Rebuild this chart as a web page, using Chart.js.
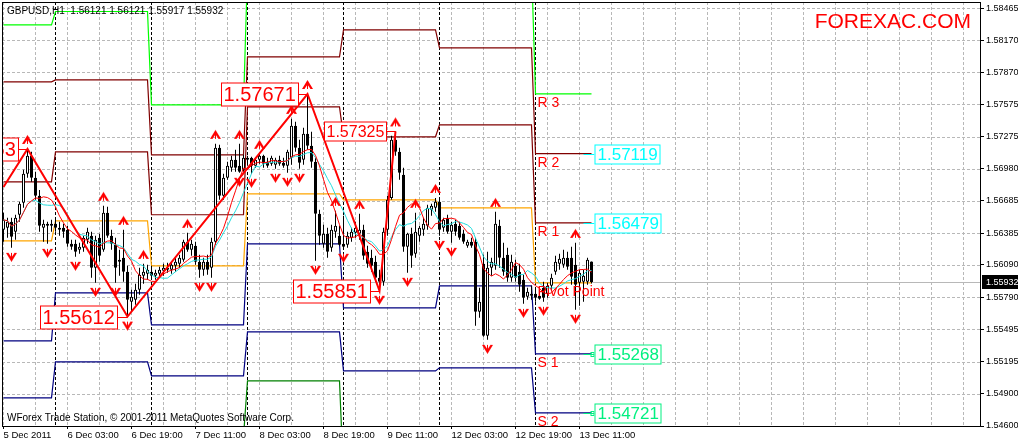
<!DOCTYPE html>
<html>
<head>
<meta charset="utf-8">
<script src="https://cdn.jsdelivr.net/npm/chart.js@4.4.1/dist/chart.umd.min.js"></script>
<style>
  html, body { margin: 0; padding: 0; background: #fff; overflow: hidden; }
  canvas { display: block; }
</style>
</head>
<body>
<canvas id="mt4Chart" width="1018" height="443"></canvas>
<script>
// GBPUSD H1, 5 Dec 2011 11:00 .. 13 Dec 2011 14:00 (one entry per bar)
const openP = [
  1.56415,1.56433,1.56489,1.56396,1.56554,1.56664,1.56933,1.57099,1.56896,1.56729,1.56433,1.56452,1.56452,
  1.56470,1.56433,1.56433,1.56415,1.56285,1.56285,1.56230,1.56248,1.56322,1.56359,1.56063,1.56341,1.56230,1.56572,1.56359,1.56276,1.56119,1.56156,1.56026,1.55749,1.55767,1.55860,1.55989,1.56008,
  1.56026,1.55989,1.56008,1.56035,1.56063,1.56045,1.56082,1.56100,1.56137,1.56304,1.56230,1.56267,1.56119,1.56045,1.56119,1.56063,1.56304,1.57173,1.56729,1.56896,1.56988,1.57062,1.57007,1.56970,
  1.57062,1.57081,1.57007,1.57062,1.57099,1.57044,1.57025,1.57016,1.57062,1.57034,1.57007,1.57081,1.57377,1.57173,1.57062,1.57303,1.57192,1.57044,1.56563,1.56285,1.56378,1.56248,1.56396,1.56359,
  1.56285,1.56276,1.56341,1.56387,1.56378,1.56415,1.56211,1.56156,1.56119,1.55971,1.55934,1.56415,1.56710,1.57247,1.57136,1.56923,1.56257,1.56378,1.56193,1.56359,1.56415,1.56452,1.56600,1.56618,
  1.56674,1.56433,1.56526,1.56396,1.56470,1.56452,1.56378,1.56267,1.56304,1.56304,1.55656,1.56100,1.55434,1.56063,1.56082,1.56452,1.56156,1.56183,1.55971,1.56082,1.56026,1.55952,1.55795,1.55823,
  1.55823,1.55804,1.55878,1.55823,1.55897,1.56026,1.56100,1.56091,1.56156,1.56156,1.56091,1.55924,1.55934,1.55934,1.56121
];
const highP = [
  1.56572,1.56526,1.56526,1.56554,1.56674,1.56970,1.57163,1.57136,1.56951,1.56784,1.56507,1.56489,1.56507,
  1.56526,1.56489,1.56470,1.56452,1.56322,1.56322,1.56294,1.56359,1.56433,1.56396,1.56359,1.56378,1.56637,1.56627,1.56415,1.56341,1.56230,1.56415,1.56082,1.55860,1.55915,1.56063,1.56100,1.56091,
  1.56082,1.56045,1.56072,1.56100,1.56109,1.56119,1.56156,1.56183,1.56322,1.56387,1.56322,1.56304,1.56183,1.56156,1.56183,1.56341,1.57210,1.57201,1.56933,1.57044,1.57099,1.57155,1.57210,1.57108,
  1.57099,1.57090,1.57081,1.57118,1.57108,1.57081,1.57099,1.57081,1.57099,1.57081,1.57155,1.57441,1.57414,1.57247,1.57358,1.57671,1.57321,1.57081,1.56600,1.56461,1.56433,1.56461,1.56590,1.56452,
  1.56544,1.56396,1.56433,1.56489,1.56563,1.56461,1.56267,1.56230,1.56174,1.56045,1.56433,1.56729,1.57284,1.57325,1.57173,1.56988,1.56387,1.56433,1.56572,1.56452,1.56526,1.56646,1.56655,1.56710,
  1.56692,1.56526,1.56554,1.56489,1.56507,1.56489,1.56415,1.56322,1.56341,1.56341,1.55878,1.56183,1.56211,1.56156,1.56581,1.56507,1.56294,1.56248,1.56183,1.56137,1.56100,1.55998,1.55878,1.55897,
  1.55878,1.55860,1.55934,1.55924,1.56008,1.56174,1.56193,1.56230,1.56211,1.56257,1.56294,1.56045,1.56045,1.56156,1.56121
];
const lowP = [
  1.56304,1.56341,1.56248,1.56322,1.56489,1.56618,1.56896,1.56859,1.56692,1.56396,1.56304,1.56285,1.56396,
  1.56396,1.56359,1.56341,1.56257,1.56230,1.56165,1.56193,1.56211,1.56285,1.55971,1.55924,1.56119,1.56211,1.56341,1.56230,1.55924,1.55989,1.55934,1.55612,1.55656,1.55721,1.55813,1.55915,1.55952,
  1.55952,1.55952,1.55971,1.55989,1.56017,1.56008,1.56026,1.56063,1.56119,1.56211,1.56174,1.56091,1.55971,1.55989,1.55998,1.55971,1.56276,1.56692,1.56692,1.56877,1.56951,1.56951,1.56942,1.56951,
  1.57007,1.56933,1.56988,1.57025,1.56988,1.56988,1.57007,1.56979,1.57007,1.56988,1.56942,1.57016,1.57136,1.56979,1.57016,1.57155,1.56988,1.56128,1.56276,1.56248,1.56156,1.56211,1.56341,1.56267,
  1.56239,1.56248,1.56304,1.56341,1.56322,1.56137,1.56063,1.56026,1.55934,1.55851,1.55897,1.56359,1.56692,1.57099,1.56877,1.56211,1.56017,1.56063,1.56156,1.56304,1.56359,1.56415,1.56544,1.56581,
  1.56359,1.56396,1.56378,1.56294,1.56359,1.56322,1.56285,1.56248,1.56248,1.55527,1.55601,1.55425,1.55397,1.55989,1.56045,1.56063,1.55989,1.55934,1.55934,1.55934,1.55841,1.55730,1.55767,1.55767,
  1.55749,1.55767,1.55749,1.55786,1.55860,1.55998,1.56045,1.56063,1.56045,1.55906,1.55675,1.55712,1.55749,1.55906,1.55917
];
const closeP = [
  1.56507,1.56489,1.56350,1.56526,1.56655,1.56933,1.57099,1.56896,1.56729,1.56452,1.56470,1.56470,1.56470,
  1.56433,1.56415,1.56396,1.56285,1.56257,1.56211,1.56257,1.56341,1.56396,1.56063,1.56322,1.56174,1.56572,1.56359,1.56285,1.56063,1.56137,1.56026,1.55767,1.55795,1.55860,1.55998,1.56026,1.56045,
  1.55989,1.56017,1.56045,1.56063,1.56045,1.56091,1.56119,1.56156,1.56304,1.56230,1.56285,1.56119,1.56045,1.56119,1.56045,1.56304,1.57173,1.56729,1.56896,1.57007,1.57062,1.56988,1.56951,1.57081,
  1.57081,1.57007,1.57062,1.57099,1.57025,1.57007,1.57081,1.57062,1.57025,1.57007,1.57136,1.57377,1.57173,1.57034,1.57303,1.57192,1.57044,1.56563,1.56359,1.56378,1.56211,1.56415,1.56452,1.56276,
  1.56257,1.56359,1.56396,1.56433,1.56415,1.56174,1.56100,1.56082,1.55971,1.55934,1.56396,1.56692,1.57247,1.57136,1.56942,1.56257,1.56378,1.56174,1.56396,1.56433,1.56470,1.56618,1.56637,1.56674,
  1.56415,1.56507,1.56396,1.56461,1.56396,1.56341,1.56304,1.56304,1.56267,1.55656,1.55749,1.55434,1.56063,1.56119,1.56470,1.56156,1.56026,1.55971,1.56119,1.55971,1.55906,1.55786,1.55841,1.55804,
  1.55786,1.55776,1.55786,1.55897,1.55971,1.56119,1.56146,1.56156,1.56072,1.55980,1.55906,1.56017,1.55989,1.56137,1.55932
];

// first bar of each trading day: 5, 6, 7, 8, 9, 12, 13 Dec
const dayStart = [0, 13, 37, 61, 85, 109, 133];
// daily pivot levels
const r3Level = [1.58311, 1.58434, 1.57571, 1.58820, 1.58848, 1.58866, 1.57673];
const r2Level = [1.57784, 1.57802, 1.57108, 1.58015, 1.58265, 1.58098, 1.57119];
const r1Level = [1.56859, 1.57136, 1.56554, 1.57552, 1.57275, 1.57386, 1.56479];
const ppLevel = [1.56313, 1.56498, 1.56082, 1.56748, 1.56692, 1.56618, 1.55924];
const s1Level = [1.55388, 1.55832, 1.55536, 1.56285, 1.55693, 1.55897, 1.55268];
const s2Level = [1.54861, 1.55194, 1.55064, 1.55471, 1.55110, 1.55138, 1.54721];
const s3Level = [1.54350, 1.54528, 1.54502, 1.55018, 1.54129, 1.54426, 1.54110];

// zigzag turning points
const zzBars = [0, 6, 31, 76, 94, 98];
const zzPrices = [1.56810, 1.57163, 1.55612, 1.57671, 1.55851, 1.57325];

// fractals
const upBars = [6, 25, 30, 35, 46, 53, 59, 64, 72, 76, 83, 89, 98, 103, 108, 123, 143];
const upPrices = [1.57163, 1.56637, 1.56415, 1.56100, 1.56387, 1.57210, 1.57210, 1.57118, 1.57441, 1.57671, 1.56590, 1.56563, 1.57325, 1.56572, 1.56710, 1.56581, 1.56294];
const downBars = [2, 11, 18, 23, 28, 31, 49, 52, 59, 62, 68, 71, 74, 78, 85, 94, 101, 109, 112, 121, 130, 135, 143];
const downPrices = [1.56248, 1.56285, 1.56165, 1.55924, 1.55924, 1.55612, 1.55971, 1.55971, 1.56942, 1.56933, 1.56979, 1.56942, 1.56979, 1.56128, 1.56239, 1.55851, 1.56017, 1.56359, 1.56294, 1.55397, 1.55730, 1.55749, 1.55675];

// axis labels
const priceTicks = [1.58465, 1.58170, 1.57870, 1.57575, 1.57275, 1.56980, 1.56685, 1.56385, 1.56090, 1.55790, 1.55495, 1.55195, 1.54900, 1.54600];
const timeBars = [0, 16, 32, 48, 64, 80, 96, 112, 128, 144];
const timeLabels = ['5 Dec 2011', '6 Dec 03:00', '6 Dec 19:00', '7 Dec 11:00', '8 Dec 03:00', '8 Dec 19:00', '9 Dec 11:00', '12 Dec 03:00', '12 Dec 19:00', '13 Dec 11:00'];

const FONT = "'Liberation Sans', Arial, sans-serif";
const GRID_STEP = 8;
const GRID_COLOR = '#b8b8b8';
Chart.defaults.font.family = FONT;
Chart.defaults.color = '#000';

// per-bar series built from the daily levels
function dailySeries(levels) {
    return openP.map((_, i) => {
        let d = 0;
        dayStart.forEach((s, k) => { if (i >= s) d = k; });
        return { x: i, y: levels[d] };
    });
}

// simple moving average of the closes (shorter window at the start)
function sma(src, period) {
    return src.map((_, i) => {
        const win = src.slice(Math.max(0, i - period + 1), i + 1);
        return { x: i, y: win.reduce((a, b) => a + b, 0) / win.length };
    });
}

// red fractal arrow head, drawn a few pixels off the price
function arrowImage(up) {
    const c = document.createElement('canvas');
    c.width = 13;
    c.height = 30;
    const g = c.getContext('2d');
    g.fillStyle = '#ff0000';
    g.strokeStyle = '#ff0000';
    g.translate(6.5, up ? 6 : 24);
    if (!up) g.scale(1, -1);
    g.beginPath();
    g.moveTo(0, -5);
    g.lineTo(5.5, 4);
    g.lineTo(3, 4);
    g.lineTo(0, -0.5);
    g.lineTo(-3, 4);
    g.lineTo(-5.5, 4);
    g.closePath();
    g.fill();
    g.lineWidth = 1;
    g.beginPath();
    g.moveTo(0, -1);
    g.lineTo(0, 4);
    g.stroke();
    return c;
}

function levelLine(levels, color, order) {
    return {
        type: 'line',
        data: dailySeries(levels),
        borderColor: color,
        borderWidth: 1.2,
        pointRadius: 0,
        tension: 0,
        fill: false,
        order: order
    };
}

const bull = closeP.map((c, i) => c >= openP[i]);

function strokeSeg(ctx, x1, y1, x2, y2) {
    ctx.beginPath();
    ctx.moveTo(x1, y1);
    ctx.lineTo(x2, y2);
    ctx.stroke();
}

// 1px dashed lines made of small blocks: 3 on, 2 off
function dashV(ctx, px, top, bottom) {
    for (let yy = top; yy < bottom; yy += 5) ctx.fillRect(px, yy, 1, Math.min(3, bottom - yy));
}
function dashH(ctx, py, left, right) {
    for (let xx = left; xx < right; xx += 5) ctx.fillRect(xx, py, Math.min(3, right - xx), 1);
}

const overlay = {
    id: 'mt4Overlay',
    beforeDatasetsDraw(chart) {
        const { ctx, chartArea: a, scales: { x, y } } = chart;
        ctx.save();
        // dashed grid
        ctx.fillStyle = GRID_COLOR;
        for (let v = 0; x.getPixelForValue(v) < a.right; v += GRID_STEP) {
            dashV(ctx, Math.floor(x.getPixelForValue(v)), a.top, a.bottom);
        }
        priceTicks.forEach(v => dashH(ctx, Math.round(y.getPixelForValue(v)), a.left, a.right));
        // current price line
        ctx.fillRect(a.left, Math.round(y.getPixelForValue(closeP[closeP.length - 1])), a.right - a.left, 1);
        // day separators
        ctx.fillStyle = '#000';
        dayStart.slice(1).forEach(b => dashV(ctx, Math.floor(x.getPixelForValue(b)), a.top, a.bottom));
        ctx.restore();
    },
    afterDatasetsDraw(chart) {
        const { ctx, chartArea: a, scales: { x, y } } = chart;
        const last = closeP.length - 1;
        const d = dayStart.length - 1;
        ctx.save();
        ctx.beginPath();
        ctx.rect(a.left, a.top, a.right - a.left, a.bottom - a.top);
        ctx.clip();

        // pivot names on the last day
        const names = ['R 3', 'R 2', 'R 1', 'Pivot Point', 'S 1', 'S 2'];
        const lv = [r3Level, r2Level, r1Level, ppLevel, s1Level, s2Level];
        const lx = x.getPixelForValue(dayStart[d]) + 2;
        ctx.font = '14px ' + FONT;
        ctx.fillStyle = '#ff0000';
        ctx.textBaseline = 'top';
        ctx.textAlign = 'left';
        names.forEach((n, k) => ctx.fillText(n, lx, y.getPixelForValue(lv[k][d]) + 2));

        // price boxes of the last day
        const boxes = [[r2Level, '#00ffff'], [r1Level, '#00ffff'], [s1Level, '#00f080'], [s2Level, '#00f080']];
        const bx = x.getPixelForValue(last) + 3;
        ctx.font = '17px ' + FONT;
        ctx.textBaseline = 'middle';
        boxes.forEach(([lvl, col], k) => {
            const py = Math.round(y.getPixelForValue(lvl[d])) + 0.5;
            const txt = lvl[d].toFixed(5);
            const w = Math.ceil(ctx.measureText(txt).width) + 4;
            ctx.strokeStyle = col;
            ctx.fillStyle = '#fff';
            ctx.lineWidth = 1;
            strokeSeg(ctx, x.getPixelForValue(last - 2), py, bx, py);
            if (k > 1) ctx.strokeRect(bx - 3.5, py - 2, 3, 4);
            ctx.fillRect(bx, py - 9.5, w, 19);
            ctx.strokeRect(bx + 0.5, py - 9.5, w, 19);
            ctx.fillStyle = col;
            ctx.fillText(txt, bx + 3, py + 1);
        });

        // zigzag price labels
        ctx.textAlign = 'left';
        zzBars.forEach((b, i) => {
            if (i === 0) return;
            const size = i === zzBars.length - 1 ? 16 : 20;
            const px = x.getPixelForValue(b);
            const py = Math.round(y.getPixelForValue(zzPrices[i])) + 0.5;
            const txt = zzPrices[i].toFixed(5);
            ctx.font = size + 'px ' + FONT;
            const w = Math.ceil(ctx.measureText(txt).width) + 4;
            const h = size + 3;
            const left = Math.round(px - 10 - w) + 0.5;
            ctx.strokeStyle = '#ff0000';
            ctx.lineWidth = 1;
            strokeSeg(ctx, left + w, py, px, py);
            ctx.fillStyle = '#fff';
            ctx.fillRect(left, py - h / 2, w, h);
            ctx.strokeRect(left, py - h / 2, w, h);
            ctx.fillStyle = '#ff0000';
            ctx.fillText(txt, left + 2, py + 1);
        });
        ctx.restore();
        ctx.save();

        // texts
        ctx.fillStyle = '#000';
        ctx.font = '10px ' + FONT;
        ctx.textBaseline = 'top';
        ctx.fillText('GBPUSD,H1  ' + [openP[last], highP[last], lowP[last], closeP[last]].map(v => v.toFixed(5)).join(' '), 7, 6);
        ctx.fillText('WForex Trade Station, \u00a9 2001-2011 MetaQuotes Software Corp.', 7, 413);
        ctx.fillStyle = '#ff0000';
        ctx.font = '21px ' + FONT;
        ctx.textAlign = 'right';
        ctx.fillText('FOREXAC.COM', 971, 12);

        // frame
        ctx.strokeStyle = '#000';
        ctx.lineWidth = 1;
        ctx.strokeRect(a.left + 0.5, a.top + 0.5, a.right - a.left, a.bottom - a.top);

        // last price tag on the price axis
        const cy = Math.round(y.getPixelForValue(closeP[last]));
        ctx.fillStyle = '#000';
        ctx.fillRect(a.right + 2, cy - 7, 40, 14);
        ctx.fillStyle = '#fff';
        ctx.font = '9px ' + FONT;
        ctx.textAlign = 'left';
        ctx.textBaseline = 'middle';
        ctx.fillText(closeP[last].toFixed(5), a.right + 6, cy + 1);
        ctx.restore();
    }
};

new Chart(document.getElementById('mt4Chart'), {
    type: 'bar',
    data: {
        datasets: [
            levelLine(r3Level, '#00ff00', 20),
            levelLine(r2Level, '#800000', 20),
            levelLine(r1Level, '#800000', 20),
            levelLine(ppLevel, '#ffa500', 20),
            levelLine(s1Level, '#000080', 20),
            levelLine(s2Level, '#000080', 20),
            levelLine(s3Level, '#008000', 20),
            {
                // wicks
                type: 'bar',
                data: lowP.map((l, i) => ({ x: i, y: [l, highP[i]] })),
                backgroundColor: '#000',
                borderWidth: 0,
                barThickness: 1,
                grouped: false,
                inflateAmount: 0,
                order: 10
            },
            {
                // bodies
                type: 'bar',
                data: openP.map((o, i) => ({ x: i, y: [o, closeP[i]] })),
                backgroundColor: bull.map(b => b ? '#fff' : '#000'),
                borderColor: '#000',
                borderWidth: 1,
                borderSkipped: false,
                barThickness: 3,
                minBarLength: 1,
                grouped: false,
                inflateAmount: 0,
                order: 9
            },
            {
                type: 'line',
                data: sma(closeP, 11),
                borderColor: '#22dddd',
                borderWidth: 1,
                pointRadius: 0,
                tension: 0,
                order: 6
            },
            {
                type: 'line',
                data: sma(closeP, 8),
                borderColor: '#ff0000',
                borderWidth: 1,
                pointRadius: 0,
                tension: 0,
                order: 5
            },
            {
                type: 'line',
                data: zzBars.map((b, i) => ({ x: b, y: zzPrices[i] })),
                borderColor: '#ff0000',
                borderWidth: 2,
                pointRadius: 0,
                tension: 0,
                order: 4
            },
            {
                type: 'line',
                data: upBars.map((b, i) => ({ x: b, y: upPrices[i] })),
                showLine: false,
                pointStyle: arrowImage(true),
                pointRadius: 5,
                order: 2
            },
            {
                type: 'line',
                data: downBars.map((b, i) => ({ x: b, y: downPrices[i] })),
                showLine: false,
                pointStyle: arrowImage(false),
                pointRadius: 5,
                order: 2
            }
        ]
    },
    options: {
        responsive: false,
        devicePixelRatio: 1,
        animation: false,
        events: [],
        layout: { autoPadding: false, padding: { left: 2, top: 2, right: 0, bottom: 0 } },
        plugins: {
            legend: { display: false },
            tooltip: { enabled: false }
        },
        scales: {
            x: {
                type: 'linear',
                offset: false,
                min: -0.375,
                max: 244.125,
                afterBuildTicks: (scale) => {
                    const t = [];
                    for (let v = 0; v <= 240; v += GRID_STEP) t.push({ value: v });
                    scale.ticks = t;
                },
                afterFit: (scale) => {
                    scale.height = 17;
                    scale.paddingLeft = 0;
                    scale.paddingRight = 0;
                },
                ticks: {
                    autoSkip: false,
                    maxRotation: 0,
                    align: 'start',
                    padding: 1,
                    font: { size: 9.5 },
                    callback: (v) => {
                        const k = timeBars.indexOf(v);
                        return k >= 0 ? timeLabels[k] : '';
                    }
                },
                grid: {
                    drawOnChartArea: false,
                    offset: false,
                    tickLength: 3,
                    tickColor: (c) => timeBars.includes(c.tick && c.tick.value) ? '#000' : 'rgba(0,0,0,0)'
                },
                border: { display: true, color: '#000' }
            },
            y: {
                type: 'linear',
                position: 'right',
                min: 1.546,
                max: 1.58522,
                afterBuildTicks: (scale) => { scale.ticks = priceTicks.map(v => ({ value: v })); },
                afterFit: (scale) => {
                    scale.width = 38;
                    scale.paddingTop = 0;
                    scale.paddingBottom = 0;
                },
                ticks: {
                    autoSkip: false,
                    padding: 2,
                    crossAlign: 'near',
                    font: { size: 9 },
                    callback: (v) => v.toFixed(5)
                },
                grid: {
                    drawOnChartArea: false,
                    tickLength: 4,
                    tickColor: '#000'
                },
                border: { display: true, color: '#000' }
            }
        }
    },
    plugins: [overlay]
});
</script>
</body>
</html>
